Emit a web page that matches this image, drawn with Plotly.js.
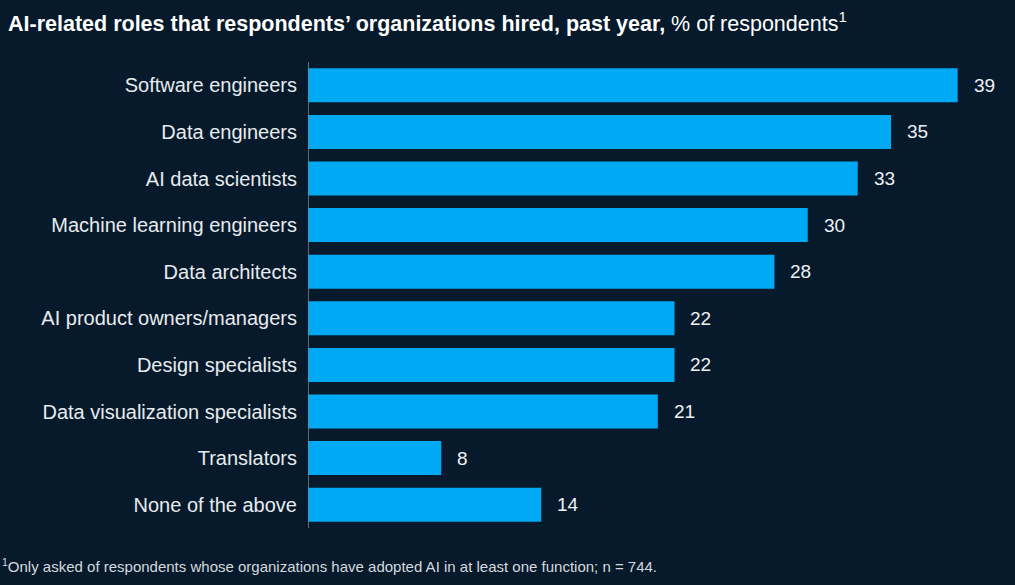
<!DOCTYPE html>
<html><head><meta charset="utf-8">
<script src="https://cdn.plot.ly/plotly-3.0.1.min.js"></script>
<style>html,body{margin:0;padding:0;background:#061a2b;}</style>
</head><body>
<div id="chart" style="width:1015px;height:585px;"></div>
<script>
const categories = ["Software engineers","Data engineers","AI data scientists","Machine learning engineers","Data architects","AI product owners/managers","Design specialists","Data visualization specialists","Translators","None of the above"];
const values = [39,35,33,30,28,22,22,21,8,14];

const FONT = 'Liberation Sans, Arial, sans-serif';
const trace = {
  type: 'bar', orientation: 'h',
  y: categories, x: values,
  marker: {color: '#00a9f4'},
  width: 0.73,
  cliponaxis: false, hoverinfo: 'none'
};
const valueLabels = categories.map((c, i) => ({
  xref: 'x', yref: 'y', x: values[i], y: c, xanchor: 'left', yanchor: 'middle',
  xshift: 14, showarrow: false, text: String(values[i]),
  font: {color: '#eef1f4', size: 19, family: FONT}
}));
const layout = {
  width: 1015, height: 585,
  paper_bgcolor: '#061a2b', plot_bgcolor: '#061a2b',
  margin: {l: 308, r: 24, t: 62, b: 57},
  showlegend: false,
  xaxis: {range: [0, 41], visible: false, fixedrange: true},
  yaxis: {autorange: 'reversed', showgrid: false, zeroline: false,
    showline: false, ticks: '', ticklabelstandoff: 10,
    tickfont: {color: '#e8ebee', size: 20, family: FONT}},
  shapes: [{type: 'line', xref: 'x', yref: 'paper', x0: 0, x1: 0, y0: 0, y1: 1,
    line: {color: '#7d8791', width: 1.5}}],
  annotations: valueLabels.concat([
    {xref: 'paper', yref: 'paper', x: -302/683, y: 1, yshift: 40, xanchor: 'left', yanchor: 'middle', showarrow: false,
     text: '<b>AI-related roles that respondents’ organizations hired, past year,</b> % of respondents<sup>1</sup>',
     font: {color: '#ffffff', size: 21.5, family: FONT}},
    {xref: 'paper', yref: 'paper', x: -308/683, y: 0, yshift: -37, xanchor: 'left', yanchor: 'middle', showarrow: false,
     text: '<sup>1</sup>Only asked of respondents whose organizations have adopted AI in at least one function; n = 744.',
     font: {color: '#d5d9de', size: 15, family: FONT}}
  ])
};
Plotly.newPlot('chart', [trace], layout, {displayModeBar: false, staticPlot: true});
</script>
</body></html>
